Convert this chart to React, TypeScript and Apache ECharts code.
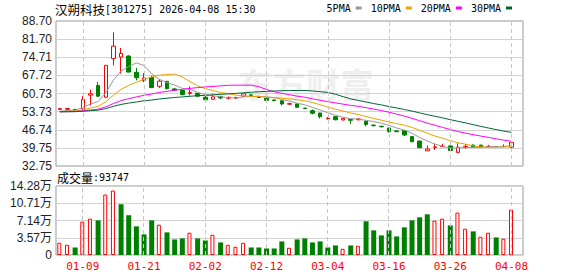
import React, { useEffect, useRef } from 'react';
import * as echarts from 'echarts';

// Trading sessions shown on the K-line chart
const dates = [
  '01-06', '01-07', '01-08', '01-09', '01-12', '01-13', '01-14', '01-15', '01-16', '01-19',
  '01-20', '01-21', '01-22', '01-23', '01-26', '01-27', '01-28', '01-29', '01-30', '02-02',
  '02-03', '02-04', '02-05', '02-06', '02-09', '02-10', '02-11', '02-12', '02-13', '02-24',
  '02-25', '02-26', '02-27', '03-02', '03-03', '03-04', '03-05', '03-06', '03-09', '03-10',
  '03-11', '03-12', '03-13', '03-16', '03-17', '03-18', '03-19', '03-20', '03-23', '03-24',
  '03-25', '03-26', '03-27', '03-30', '03-31', '04-01', '04-02', '04-03', '04-07', '04-08',
];

const opens = [
  54.6, 54.6, 54.6, 54.8, 60.1, 63.8, 59.3, 74.2, 74.8, 75.2,
  68.9, 65.8, 66.9, 63.5, 65.4, 62.5, 61.9, 60.8, 60.8, 59.3,
  58.5, 59.5, 58.9, 58.9, 59.7, 60.2, 59.6, 58.9, 58.2, 57.9,
  56.6, 56.7, 55.1, 54.1, 53.2, 51.0, 51.8, 50.5, 50.7, 50.6,
  50.0, 48.5, 48.1, 47.4, 46.3, 46.4, 44.1, 42.4, 38.6, 39.9,
  40.2, 40.5, 38.0, 39.9, 40.8, 40.8, 40.25, 40.3, 40.25, 40.0,
];
const closes = [
  54.9, 54.95, 54.4, 58.4, 60.6, 59.7, 71.6, 79.0, 76.2, 69.0,
  66.8, 66.7, 63.0, 65.5, 62.6, 62.0, 60.3, 61.1, 59.7, 58.3,
  59.4, 59.0, 59.1, 59.15, 60.6, 60.0, 59.2, 58.1, 58.0, 56.7,
  56.8, 55.4, 54.9, 53.1, 51.8, 51.2, 50.6, 51.1, 50.4, 50.9,
  48.8, 48.3, 47.9, 46.1, 46.0, 44.7, 42.1, 39.8, 39.3, 40.1,
  40.4, 38.7, 40.0, 40.3, 40.1, 40.2, 40.35, 40.2, 40.35, 41.9,
];
const lows = [
  54.3, 54.4, 54.2, 54.3, 56.1, 59.4, 59.0, 71.6, 68.4, 68.9,
  65.8, 65.1, 62.8, 62.9, 62.3, 61.6, 60.0, 59.95, 59.5, 58.0,
  58.4, 58.6, 58.4, 58.6, 59.6, 59.8, 59.0, 57.9, 57.7, 56.1,
  56.3, 55.2, 54.7, 52.7, 51.1, 50.7, 50.4, 50.4, 49.0, 50.4,
  48.1, 48.0, 47.6, 45.6, 45.8, 44.3, 42.0, 39.7, 38.5, 38.9,
  40.2, 38.6, 37.7, 39.4, 40.0, 40.1, 40.2, 40.1, 40.0, 39.6,
];
const highs = [
  55.2, 55.2, 54.7, 59.7, 62.2, 65.1, 71.7, 84.3, 78.3, 75.4,
  70.6, 68.6, 67.6, 66.3, 65.6, 62.9, 62.0, 63.45, 61.0, 60.1,
  60.6, 59.9, 59.6, 59.5, 60.7, 60.5, 59.8, 59.1, 58.5, 58.0,
  57.2, 56.8, 55.2, 54.6, 53.3, 51.6, 51.9, 51.2, 50.8, 51.1,
  50.1, 48.8, 48.2, 47.5, 46.4, 46.5, 44.1, 42.4, 40.6, 41.2,
  41.3, 40.6, 41.5, 41.2, 41.1, 40.9, 40.9, 40.4, 41.1, 41.9,
];

// Volume in lots (手)
const volumes = [
  25300, 21100, 15600, 69000, 75200, 71700, 125100, 133400, 105000, 82100,
  59300, 42600, 71700, 62700, 46800, 32200, 34300, 46100, 34300, 30200,
  41900, 26000, 21100, 17000, 25300, 15600, 15600, 13500, 13500, 28100,
  14900, 32200, 34300, 26000, 28100, 15600, 19800, 12800, 19800, 19100,
  69700, 51000, 40600, 51000, 38500, 57200, 71700, 78000, 84200, 71100,
  75200, 61300, 87700, 54400, 48900, 37800, 46100, 36400, 33600, 93747,
];

// Price level the averages carry in from before the first session
const maStartLevel = 53.6;

const priceTicks = ['32.75', '39.75', '46.74', '53.73', '60.73', '67.72', '74.71', '81.70', '88.70'];
const priceMin = 32.75;
const priceMax = 88.7;
const volumeMax = 142800;
const volumeStep = 35700;

const maPeriods = [5, 10, 20, 30];
const maColors = ['#999999', '#f0a000', '#ff00ff', '#006633'];

const UP = '#ff0000';
const DOWN = '#008000';

function movingAverage(n: number): number[] {
  return closes.map((_, i) => {
    let sum = 0;
    for (let k = 0; k < n; k++) {
      const j = i - k;
      sum += j >= 0 ? closes[j] : maStartLevel;
    }
    return +(sum / n).toFixed(3);
  });
}

// one empty slot to the right of the latest session
const axisDates = [...dates, ''];
const labelEvery = (i: number) => i % 8 === 3;
const guideDates = dates.filter((_, i) => labelEvery(i));

const candles = dates.map((_, i) => [opens[i], closes[i], lows[i], highs[i]]);
const volumeRises = volumes.map((_, i) =>
  i === 0 ? closes[0] >= opens[0] : closes[i] >= closes[i - 1]
);

const guideLines = {
  silent: true,
  symbol: ['none', 'none'],
  label: { show: false },
  emphasis: { disabled: true },
  lineStyle: { color: '#c8c8c8', type: [4, 3], width: 1 },
  data: guideDates.map((d) => ({ xAxis: d })),
};

const monoFont = 'DejaVu Sans Mono';
const cjkFont = 'Noto Sans CJK SC';

const option: any = {
  animation: false,
  backgroundColor: '#ffffff',
  title: [
    {
      left: 55,
      top: 2,
      padding: 0,
      text: '{c|汉朔科技}{a|[301275] 2026-04-08 15:30}',
      textStyle: {
        fontWeight: 'normal',
        lineHeight: 14,
        rich: {
          c: { fontFamily: cjkFont, fontSize: 12.5, fontWeight: 'normal', color: '#000', lineHeight: 14 },
          a: { fontFamily: monoFont, fontSize: 10, fontWeight: 'normal', color: '#000', lineHeight: 14 },
        },
      },
    },
    {
      left: 57,
      top: 170,
      padding: 0,
      text: `{c|成交量}{a|:${volumes[volumes.length - 1]}}`,
      textStyle: {
        fontWeight: 'normal',
        lineHeight: 14,
        rich: {
          c: { fontFamily: cjkFont, fontSize: 12, fontWeight: 'normal', color: '#000', lineHeight: 14 },
          a: { fontFamily: monoFont, fontSize: 10, fontWeight: 'normal', color: '#000', lineHeight: 14 },
        },
      },
    },
  ],
  legend: {
    right: 66,
    top: 3,
    padding: 0,
    align: 'right',
    icon: 'rect',
    itemWidth: 6,
    itemHeight: 3,
    itemGap: 9,
    selectedMode: false,
    textStyle: { fontFamily: monoFont, fontSize: 10, color: '#000' },
    data: maPeriods.map((p) => `${p}PMA`),
  },
  graphic: [
    {
      type: 'text',
      left: 238,
      top: 66,
      silent: true,
      z: -1,
      style: {
        text: '东方财富',
        fontFamily: cjkFont,
        fontSize: 34,
        fontWeight: 'bold',
        fill: '#efefef',
      },
    },
  ],
  grid: [
    { left: 56, top: 21, width: 467, height: 145, show: true, borderColor: '#999', borderWidth: 1 },
    { left: 56, top: 186, width: 467, height: 69, show: true, borderColor: '#999', borderWidth: 1 },
  ],
  xAxis: [
    {
      type: 'category',
      gridIndex: 0,
      data: axisDates,
      boundaryGap: true,
      axisLine: { show: false },
      axisTick: { show: false },
      axisLabel: { show: false },
      splitLine: { show: false },
    },
    {
      type: 'category',
      gridIndex: 1,
      data: axisDates,
      boundaryGap: true,
      axisLine: { show: false },
      axisTick: { show: false },
      axisLabel: {
        interval: labelEvery,
        color: UP,
        fontFamily: monoFont,
        fontSize: 11,
        margin: 6,
      },
      splitLine: { show: false },
    },
  ],
  yAxis: [
    {
      type: 'category',
      gridIndex: 0,
      data: priceTicks,
      boundaryGap: false,
      axisLine: { show: false },
      axisTick: { show: false },
      axisLabel: { interval: 0, color: '#222', fontFamily: 'Liberation Sans', fontSize: 12, margin: 4 },
      splitLine: {
        show: true,
        interval: (i: number) => i > 0 && i < priceTicks.length - 1,
        lineStyle: { color: '#d2d2d2', width: 1 },
      },
    },
    {
      type: 'value',
      gridIndex: 0,
      min: priceMin,
      max: priceMax,
      show: false,
      splitLine: { show: false },
    },
    {
      type: 'value',
      gridIndex: 1,
      min: 0,
      max: volumeMax,
      interval: volumeStep,
      axisLine: { show: false },
      axisTick: { show: false },
      axisLabel: {
        showMinLabel: true,
        showMaxLabel: true,
        color: '#222',
        fontFamily: 'Liberation Sans, Noto Sans CJK SC',
        fontSize: 12,
        margin: 4,
        formatter: (v: number) => (v === 0 ? '0' : `${(v / 10000).toFixed(2)}万`),
      },
      splitLine: { show: true, lineStyle: { color: '#d2d2d2', width: 1 } },
    },
  ],
  series: [
    {
      name: 'K',
      type: 'candlestick',
      xAxisIndex: 0,
      yAxisIndex: 1,
      barWidth: 4,
      data: candles,
      itemStyle: {
        color: '#ffffff',
        color0: DOWN,
        borderColor: UP,
        borderColor0: DOWN,
        borderWidth: 1,
      },
      markLine: guideLines,
      z: 3,
    },
    ...maPeriods.map((p, k) => ({
      name: `${p}PMA`,
      type: 'line',
      xAxisIndex: 0,
      yAxisIndex: 1,
      data: movingAverage(p),
      color: maColors[k],
      symbol: 'none',
      showSymbol: false,
      lineStyle: { width: 1, color: maColors[k] },
      z: 4,
    })),
    {
      name: 'volUp',
      type: 'bar',
      xAxisIndex: 1,
      yAxisIndex: 2,
      barWidth: 4,
      barGap: '-100%',
      data: volumes.map((v, i) => (volumeRises[i] ? v : '-')),
      itemStyle: { color: '#ffffff', borderColor: UP, borderWidth: 1 },
      markLine: guideLines,
    },
    {
      name: 'volDown',
      type: 'bar',
      xAxisIndex: 1,
      yAxisIndex: 2,
      barWidth: 5,
      barGap: '-100%',
      data: volumes.map((v, i) => (volumeRises[i] ? '-' : v)),
      itemStyle: { color: DOWN },
    },
  ],
};

export default function App() {
  const ref = useRef<HTMLDivElement>(null);
  useEffect(() => {
    if (!ref.current) return;
    const chart = echarts.init(ref.current, undefined, { renderer: 'svg' });
    chart.setOption(option);
    return () => chart.dispose();
  }, []);
  return (
    <div
      ref={ref}
      style={{ position: 'fixed', left: 0, top: 0, width: 578, height: 276, background: '#fff' }}
    />
  );
}
